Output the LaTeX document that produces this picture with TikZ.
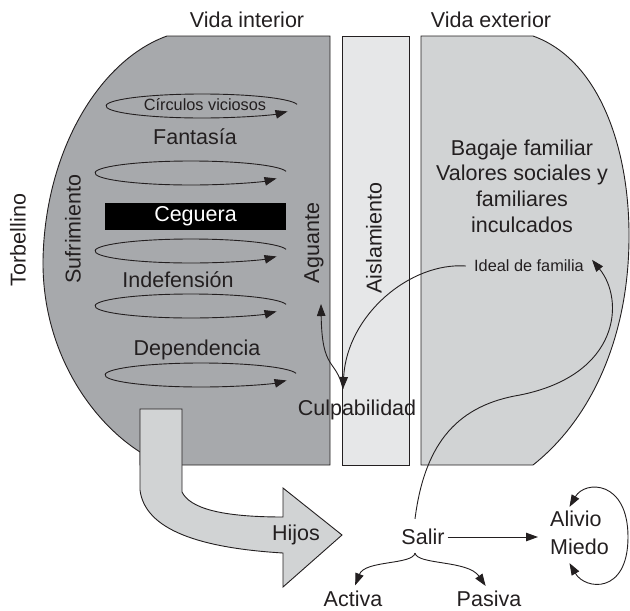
\documentclass[tikz,border=0pt]{standalone}
\usepackage{fontspec}
\setmainfont{Liberation Sans}
\usetikzlibrary{arrows.meta}
\usetikzlibrary{positioning}

\definecolor{ink}{RGB}{35,31,32}
\definecolor{darkfill}{RGB}{167,169,172}
\definecolor{stripfill}{RGB}{230,231,232}
\definecolor{lightfill}{RGB}{209,211,212}

\begin{document}
\begin{tikzpicture}
	[x=1pt, y=-1pt, color=ink,
	>={Triangle[length=12pt, width=8.5pt]}]

\def\BigFont{\fontsize{21.5}{25.7}\selectfont}
\def\SmallFont{\fontsize{16.3}{19}\selectfont}
\def\CegueraWidth{181pt}
\def\CegueraHeight{27pt}

% Styles
\tikzstyle{every node} =
	[font=\BigFont, inner sep=0pt]

\tikzstyle{small text} =
	[font=\SmallFont]

\tikzstyle{side text} =
	[rotate=90]

\tikzstyle{region} =
	[draw=ink, line width=0.9pt]

\tikzstyle{link} =
	[->, line width=0.9pt]

\useasboundingbox (0,0) rectangle (630,611);

% Regions

\draw[region, fill=darkfill] (167,36) -- (330,36) -- (330,465) -- (140,465) -- (140,452)
	.. controls (90,420) and (42,350) .. (43,260)
	.. controls (45,150) and (100,60) .. (167,36) -- cycle;

\draw[region, fill=stripfill] (342,36) rectangle (409,465);

\draw[region, fill=lightfill] (421,36) -- (533,36)
	.. controls (600,60) and (630,150) .. (629,240)
	.. controls (628,340) and (590,420) .. (533,465)
	-- (421,465) -- cycle;

\draw[region, fill=lightfill] (140,409) -- (182,409) -- (182,492)
	.. controls (190,508) and (220,517) .. (283,517)
	-- (283,488) -- (342,535) -- (283,587) -- (283,553)
	.. controls (200,548) and (145,530) .. (140,490) -- cycle;

% Vicious circles
\foreach \cx/\cy in {202/106, 191/173, 191/251, 191/306, 201/375}
	\draw[link] ([shift={(-8:96 and 12)}] \cx,\cy)
		arc[start angle=-8, end angle=-333, x radius=96, y radius=12];

% Modules

\node (VidaInterior) at (247,20) {Vida interior};
\node (VidaExterior) at (491,20) {Vida exterior};

\node (Torbellino) [side text] at (18,240) {Torbellino};
\node (Sufrimiento) [side text] at (73,229) {Sufrimiento};
\node (Aguante) [side text] at (314,243) {Aguante};
\node (Aislamiento) [side text] at (374,238) {Aislamiento};

\node (CirculosViciosos) [small text] at (205,105) {Círculos viciosos};
\node (Fantasia) at (195,137) {Fantasía};
\node (Ceguera) [fill=black, text=white, minimum width=\CegueraWidth,
	minimum height=\CegueraHeight] at (195.5,216.5) {Ceguera};
\node (Indefension) at (178,280) {Indefensión};
\node (Dependencia) at (197,350) {Dependencia};

\node (Culpabilidad) at (357,410) {Culpabilidad};

\node (Bagaje) [align=center] at (522,186)
	{Bagaje familiar\\Valores sociales y\\familiares\\inculcados};
\node (IdealFamilia) [small text, inner xsep=8pt] at (529,266) {Ideal de familia};

\node (Hijos) at (296,535) {Hijos};
\node (Salir) at (423,537) {Salir};
\node (AlivioMiedo) [align=left, anchor=west, font=\fontsize{21.5}{28}\selectfont]
	at (550,533) {Alivio\\Miedo};
\node (Activa) at (353,599) {Activa};
\node (Pasiva) at (489,599) {Pasiva};

\coordinate (CulpTop) at (343,389);
\coordinate (AguanteFoot) at (321,304);
\coordinate (Fork) at (415,553);

% Edges

\draw[link] (IdealFamilia.west)
	.. controls (410,262) and (347,315) .. (CulpTop);
\draw[link] (CulpTop)
	.. controls (336,358) and (322,372) .. (AguanteFoot);

\draw[link] ([shift={(-8,-10)}] Salir.north)
	.. controls (425,440) and (460,405) .. (520,395)
	.. controls (620,375) and (625,300) .. (IdealFamilia.north east);

\draw[link, shorten <=3pt, shorten >=12pt]
	(Salir.east) -- (Salir.east -| AlivioMiedo.west);

\draw[<->, line width=0.9pt] ([shift={(-10,-4)}] AlivioMiedo.north)
	.. controls (585,480) and (628,480) .. (628,537)
	.. controls (628,595) and (585,590) .. ([shift={(-10,8)}] AlivioMiedo.south);

\draw[link, shorten >=6pt] (Fork)
	.. controls (413,565) and (365,560) .. (Activa.north);
\draw[link, shorten >=6pt] (Fork)
	.. controls (417,565) and (468,560) .. (Pasiva.north);

\end{tikzpicture}
\end{document}
